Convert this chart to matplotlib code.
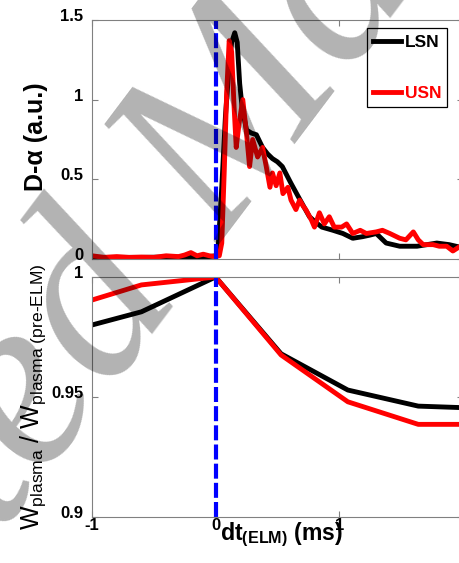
import matplotlib.pyplot as plt
from matplotlib.transforms import ScaledTranslation

plt.rcParams['font.family'] = ['Liberation Sans', 'DejaVu Sans']
plt.rcParams['mathtext.fontset'] = 'custom'
plt.rcParams['mathtext.rm'] = 'Liberation Sans'
plt.rcParams['mathtext.it'] = 'Liberation Sans:italic'
plt.rcParams['mathtext.bf'] = 'Liberation Sans:bold'

# ---- D-alpha, lower single null ----
t_lsn = [-1.0, -0.8, -0.6, -0.4, -0.2, -0.05, 0.0, 0.02, 0.05, 0.08, 0.11, 0.13,
         0.155, 0.175, 0.195, 0.215, 0.25, 0.29, 0.33, 0.38, 0.42, 0.46, 0.50,
         0.54, 0.58, 0.61, 0.67, 0.72, 0.76, 0.81, 0.86, 0.95, 1.03, 1.11, 1.19,
         1.25, 1.30, 1.38, 1.49, 1.63, 1.79, 1.89, 2.0]
da_lsn = [0.01, 0.01, 0.01, 0.012, 0.012, 0.015, 0.02, 0.06, 0.45, 0.90, 1.22, 1.36,
          1.42, 1.36, 1.10, 0.95, 0.81, 0.79, 0.78, 0.70, 0.66, 0.63, 0.61,
          0.58, 0.52, 0.475, 0.39, 0.32, 0.265, 0.23, 0.20, 0.18, 0.16, 0.13, 0.14,
          0.15, 0.16, 0.10, 0.08, 0.08, 0.10, 0.09, 0.07]

# ---- D-alpha, upper single null ----
t_usn = [-1.0, -0.9, -0.8, -0.7, -0.6, -0.5, -0.4, -0.3, -0.25, -0.2, -0.15, -0.1,
         -0.05, 0.0, 0.03, 0.05, 0.07, 0.09, 0.11, 0.13, 0.15, 0.167, 0.19, 0.22,
         0.25, 0.275, 0.30, 0.34, 0.38, 0.41, 0.44, 0.46, 0.49, 0.52, 0.545, 0.585,
         0.61, 0.65, 0.68, 0.71, 0.73, 0.775, 0.80, 0.84, 0.88, 0.92, 0.96, 1.02,
         1.06, 1.11, 1.17, 1.22, 1.30, 1.35, 1.41, 1.49, 1.54, 1.60, 1.64, 1.68,
         1.76, 1.81, 1.87, 1.92, 1.98, 2.0]
da_usn = [0.02, 0.01, 0.015, 0.01, 0.012, 0.01, 0.02, 0.015, 0.025, 0.04, 0.02, 0.03,
          0.02, 0.015, 0.02, 0.10, 0.55, 1.05, 1.37, 1.30, 0.95, 0.70, 0.85, 1.00,
          0.79, 0.58, 0.75, 0.64, 0.70, 0.58, 0.45, 0.54, 0.46, 0.54, 0.41, 0.45,
          0.37, 0.31, 0.37, 0.33, 0.31, 0.245, 0.20, 0.29, 0.22, 0.265, 0.20, 0.20,
          0.22, 0.16, 0.18, 0.16, 0.17, 0.18, 0.16, 0.13, 0.12, 0.17, 0.12, 0.09,
          0.09, 0.08, 0.08, 0.05, 0.08, 0.07]

# ---- stored energy normalised to pre-ELM value ----
t_w = [-1.0, -0.6, 0.0, 0.53, 1.07, 1.64, 2.2]
w_lsn = [0.980, 0.9855, 1.0, 0.968, 0.9529, 0.9462, 0.9452]
w_usn = [0.9904, 0.9967, 1.0, 0.9675, 0.948, 0.9386, 0.9386]

x_ticks = [-1, 0, 1, 2]
x_labels = ['-1', '0', '1', '2']
da_ticks = [0, 0.5, 1, 1.5]
da_labels = ['0', '0.5', '1', '1.5']
w_ticks = [0.9, 0.95, 1.0]
w_labels = ['0.9', '0.95', '1']

fig = plt.figure(figsize=(4.6, 5.63), dpi=100)
ax1 = fig.add_axes([0.2, 0.540, 0.806, 0.4245])
ax2 = fig.add_axes([0.2, 0.0817, 0.806, 0.4263])

lw = 3.5
ax1.plot(t_lsn, da_lsn, color='k', lw=lw, label='LSN')
ax1.plot(t_usn, da_usn, color='r', lw=lw, label='USN')
ax2.plot(t_w, w_lsn, color='k', lw=lw)
ax2.plot(t_w, w_usn, color='r', lw=lw)

tick_font = dict(fontsize=12, fontweight='bold')
for ax in (ax1, ax2):
    ax.axvline(0, color='b', lw=3, dashes=(3.6, 1.0))
    ax.set_xlim(-1, 2)
    for sp in ax.spines.values():
        sp.set_color('0.5')
        sp.set_linewidth(0.8)
    ax.tick_params(direction='in', length=4, width=0.8, color='0.5',
                   top=True, right=True)
    ax.tick_params(axis='y', pad=6.3)
    ax.tick_params(axis='x', pad=0.5)

ax1.set_ylim(0, 1.5)
ax1.set_xticks(x_ticks)
ax1.tick_params(labelbottom=False)
ax1.set_yticks(da_ticks, labels=da_labels, **tick_font)
ax1.set_ylabel('D-α (a.u.)', fontsize=18, fontweight='bold')

ax2.set_ylim(0.9, 1.0)
ax2.set_xticks(x_ticks, labels=x_labels, **tick_font)
ax2.set_yticks(w_ticks, labels=w_labels, **tick_font)
ax2.set_ylabel(r'W$_{\text{plasma}}$ / W$_{\text{plasma (pre-ELM)}}$', fontsize=18)
ax2.set_xlabel(r'$\mathbf{dt}_{\mathbf{(ELM)}}$ (ms)', fontsize=16.6, fontweight='bold')
ax1.yaxis.set_label_coords(-0.12, 0.51)
ax2.yaxis.set_label_coords(-0.12, 0.5)
ax2.xaxis.set_label_coords(0.511, -0.015)

# nudge y tick labels up a little
shift = ScaledTranslation(0, 0.05, fig.dpi_scale_trans)
for ax in (ax1, ax2):
    for lbl in ax.get_yticklabels():
        lbl.set_transform(lbl.get_transform() + shift)

leg = ax1.legend(loc='upper right', bbox_to_anchor=(0.958, 0.965), borderaxespad=0,
                 fancybox=False, edgecolor='k', framealpha=1,
                 prop={'weight': 'bold', 'size': 12.5}, labelcolor='linecolor',
                 handlelength=1.6, handletextpad=0.2, labelspacing=2.1, borderpad=0.35)
leg.get_frame().set_linewidth(0.9)

fig.text(-0.789, -0.838, 'Accepted Manuscript', rotation=53, rotation_mode='anchor',
         ha='left', va='baseline', fontsize=180, family='Liberation Serif',
         style='italic', color='k', alpha=0.3, zorder=10)

fig.savefig('out.png', dpi=100)
